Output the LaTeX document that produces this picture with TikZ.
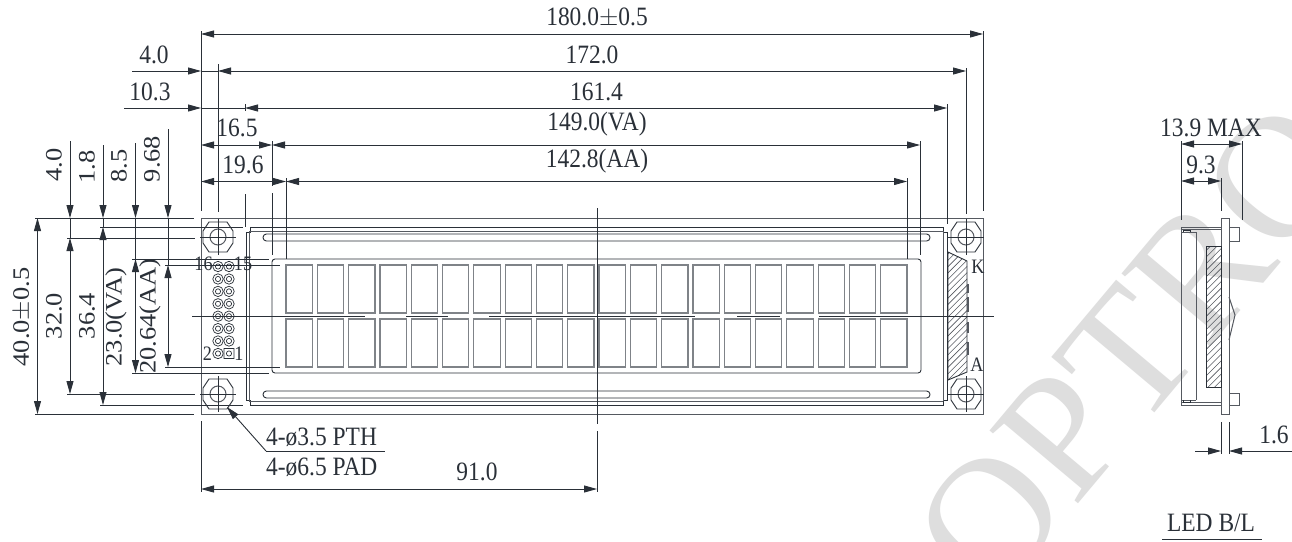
\documentclass[tikz,border=0pt]{standalone}
\usepackage{fontspec}
\setmainfont[FakeStretch=0.885]{Liberation Serif}
\newfontfamily\rotfont[FakeStretch=1.125]{Liberation Serif}
\newfontfamily\wmfont{Liberation Serif}
\usetikzlibrary{arrows.meta}
\definecolor{ink}{HTML}{2A3038}
\definecolor{wm}{HTML}{DEDEDE}
\tikzset{
  ln/.style={draw=ink,line width=0.9pt},
  thin ln/.style={draw=ink,line width=0.7pt},
  outl/.style={draw=ink!80,line width=1.0pt},
  dim/.style={draw=ink,line width=0.9pt},
  arr/.style={draw=ink,line width=0.9pt,{Triangle[length=13pt,width=7pt]}-{Triangle[length=13pt,width=7pt]}},
  arre/.style={draw=ink,line width=0.9pt,-{Triangle[length=13pt,width=7pt]}},
  lab/.style={font=\fontsize{26.5}{26.5}\selectfont,text=ink,inner sep=0pt},
  rlab/.style={font=\rotfont\fontsize{23.5}{23.5}\selectfont,text=ink,inner sep=0pt,rotate=90},
  slab/.style={font=\fontsize{20.5}{20.5}\selectfont,text=ink,inner sep=0pt},
  charcell/.style={draw=ink!60,line width=1.2pt},
  hat/.style={draw=ink!80,line width=0.6pt},
}
\newcommand{\mhole}[2]{%
  \draw[ln] (#1,#2) ++(-15,-6) -- ++(6,-9) -- ++(12,-0) -- ++(6,0) -- ++(6,9) -- ++(0,12) -- ++(-6,9) -- ++(-18,0) -- ++(-6,-9) -- cycle;
  \draw[outl] (#1,#2) circle (8);
  \draw[thin ln] (#1-18,#2) -- (#1+18,#2) (#1,#2-18) -- (#1,#2+18);
}
\newcommand{\pinhole}[2]{%
  \draw[thin ln] (#1,#2) circle (5.2) (#1,#2) circle (2.6);
}
\begin{document}
\begin{tikzpicture}[x=1pt,y=-1pt]
\useasboundingbox (0,0) rectangle (1292,541);
\clip (0,0) rectangle (1292,541);
\fill[white] (0,0) rectangle (1292,541);
% watermark
\node[font=\fontsize{175}{175}\wmfont,text=wm,rotate=50,anchor=base west,inner sep=0pt] (wmark) at (993.5,605) {OPTRO};
% module frame
\draw[outl] (201,218) rectangle (983,414);
% bezel
\draw[ln] (250,227) -- (943,227) -- (943,232) -- (947,232) -- (947,400) -- (943,400) -- (943,405) -- (250,405) -- (250,400) -- (246,400) -- (246,232) -- (250,232) -- cycle;
\draw[outl] (249,231) -- (943,231) (249,401) -- (943,401) (249,231) -- (249,401) (943,231) -- (943,401);
% slots
\draw[ln,rounded corners=3.4pt] (263,234) rectangle (930,241);
\draw[ln,rounded corners=3.4pt] (263,391) rectangle (930,398);
% window
\draw[ln,rounded corners=3pt] (272,259) rectangle (921,373);
% characters
\foreach \i in {0,...,19}{
  \pgfmathsetmacro{\xa}{286+31.3*\i}
  \draw[charcell] (\xa,265) rectangle (\xa+26.3,313);
  \draw[charcell] (\xa,319) rectangle (\xa+26.3,367);
}
% LED hatch
\begin{scope}
\clip (948,252) -- (967,261) -- (967,372) -- (948,380) -- cycle;
\foreach \k in {0,...,22}{
  \draw[hat] (940,{262+\k*6.3}) -- (975,{262+\k*6.3-35});
}
\end{scope}
\draw[ln] (948,252) -- (967,261) -- (967,372) -- (948,380) -- cycle;
\draw[draw=ink!80,line width=2pt] (968,284) -- (968,293) (968,297) -- (968,312) (968,322) -- (968,333) (968,342) -- (968,355);
% holes
\mhole{218}{237}
\mhole{218}{394}
\mhole{966}{237}
\mhole{966}{394}
% pins
\foreach \yy in {266.5,279,291.4,303.8,316.2,328.6,341,353.5}{
  \pinhole{218}{\yy}
  \ifdim\yy pt<353pt \pinhole{229}{\yy}\fi
}
\draw[thin ln] (224,348.5) rectangle (234,358.5) (229,353.5) circle (2.6);
% centre lines
\draw[thin ln] (192,316) -- (365,316) (406,316) -- (448,316) (489,316) -- (695,316) (737,316) -- (780,316) (819,316) -- (994,316);
\draw[thin ln] (597,208) -- (597,424) (597,431) -- (597,492);
% horizontal extension lines
\draw[dim] (35,218) -- (194,218) (35,414) -- (194,414);
\draw[dim] (67,238) -- (195,238) (67,394) -- (195,394);
\draw[dim] (100,227) -- (243,227) (100,405) -- (243,405);
\draw[dim] (132,259) -- (269,259) (132,373) -- (269,373);
\draw[dim] (165,265) -- (280,265) (165,367) -- (280,367);
% vertical extension lines on top
\draw[dim] (201,31) -- (201,211) (983,31) -- (983,211);
\draw[dim] (218,64) -- (218,212) (966,68) -- (966,214);
\draw[dim] (245,104) -- (245,111) (245,194) -- (245,227) (947,104) -- (947,224);
\draw[dim] (272,141) -- (272,186) (272,193) -- (272,255) (920,141) -- (920,255);
\draw[dim] (286,178) -- (286,259) (907,178) -- (907,259);
\draw[dim] (201,421) -- (201,492);
% top dimensions
\coordinate (t0) at (201,34); \coordinate (t1) at (983,34);
\draw[arr] (t0) -- (t1);
\coordinate (a0) at (132,71); \coordinate (a1) at (201,71); \coordinate (a2) at (218,71); \coordinate (a3) at (966,71);
\draw[arre] (a0) -- (a1); \draw[arr] (a2) -- (a3); \draw[dim] (a1) -- (a2);
\coordinate (b0) at (124,108); \coordinate (b1) at (201,108); \coordinate (b2) at (245,108); \coordinate (b3) at (947,108);
\draw[arre] (b0) -- (b1); \draw[arr] (b2) -- (b3); \draw[dim] (b1) -- (b2);
\coordinate (c1) at (201,145); \coordinate (c2) at (272,145); \coordinate (c3) at (920,145);
\draw[arr] (c1) -- (c2); \draw[arr] (c2) -- (c3);
\coordinate (d1) at (201,181.5); \coordinate (d2) at (286,181.5); \coordinate (d3) at (907,181.5);
\draw[arr] (d1) -- (d2); \draw[arr] (d2) -- (d3);
% left dimensions
\draw[arr] (37.5,218) -- (37.5,414);
\draw[arre] (70,141) -- (70,218);
\draw[arr] (70,238) -- (70,394); \draw[dim] (70,218) -- (70,238);
\draw[arre] (103,145) -- (103,218);
\draw[arr] (103,227) -- (103,405); \draw[dim] (103,218) -- (103,227);
\draw[arre] (135.5,143) -- (135.5,218);
\draw[arr] (135.5,259) -- (135.5,373); \draw[dim] (135.5,218) -- (135.5,259);
\draw[arre] (168,129) -- (168,218);
\draw[arr] (168,265) -- (168,367); \draw[dim] (168,218) -- (168,265);
% bottom dim
\draw[arr] (201,489) -- (597,489);
% leader
\coordinate (l1) at (266,451); \coordinate (l2) at (385,451); \coordinate (l0) at (227,407);
\draw[dim,{Triangle[length=13pt,width=7pt]}-] (l0) -- (l1);
\draw[dim] (l1) -- (l2);
% labels
\node[lab] (n1) at (597,18) {180.0$\pm$0.5};
\node[lab] (n2) at (592,55) {172.0};
\node[lab] (n3) at (596.5,92) {161.4};
\node[lab] (n4) at (597,124) {149.0(VA)};
\node[lab] (n5) at (597,161) {142.8(AA)};
\node[lab] (n6) at (154,55) {4.0};
\node[lab] (n7) at (150,92) {10.3};
\node[lab] (n8) at (237,128) {16.5};
\node[lab] (n9) at (243,165) {19.6};
\node[rlab] (n10) at (54,165) {4.0};
\node[rlab] (n11) at (87,167) {1.8};
\node[rlab] (n12) at (119,166) {8.5};
\node[rlab] (n13) at (152,159) {9.68};
\node[rlab] (n14) at (22,317) {40.0$\pm$0.5};
\node[rlab] (n15) at (54,316) {32.0};
\node[rlab] (n16) at (87,316) {36.4};
\node[rlab] (n17) at (116,317) {23.0(VA)};
\node[rlab] (n18) at (150,316) {20.64(AA)};
\node[slab] (p16) at (203.5,264) {16};
\node[slab] (p15) at (243,264) {15};
\node[slab] (p2) at (207.5,354) {2};
\node[slab] (p1) at (239,354) {1};
\node[slab] (k) at (978,267) {K};
\node[slab] (aa) at (977,365) {A};
\node[lab,anchor=west] (q1) at (266,437) {4-ø3.5 PTH};
\node[lab,anchor=west] (q2) at (266,467) {4-ø6.5 PAD};
\node[lab] (n91) at (477,472) {91.0};
% side view
\draw[dim] (1181,141) -- (1181,220) (1242,141) -- (1242,220) (1221,178) -- (1221,211);
\draw[arr] (1181,144) -- (1242,144);
\draw[arr] (1181,181) -- (1221,181);
\node[lab] (s1) at (1211,128) {13.9 MAX};
\node[lab] (s2) at (1201,165) {9.3};
% PCB side
\draw[outl] (1221,218) rectangle (1229,414);
\draw[outl] (1229,227) rectangle (1239,241);
\draw[outl] (1229,393) rectangle (1239,405.5);
\draw[outl] (1181,227) -- (1221,227) (1181,229) -- (1221,229) (1181,402) -- (1221,402) (1181,405) -- (1221,405);
\draw[outl] (1181,227) -- (1181,405);
\draw[outl] (1196,232) -- (1196,400) (1181,232) -- (1196,232) (1181,400) -- (1196,400);
\draw[thin ln] (1183,232) -- (1183,230) -- (1190,230) -- (1190,232) (1183,400) -- (1183,402) -- (1190,402) -- (1190,400);
\draw[outl] (1229,297) -- (1235,315) -- (1229,340);
\begin{scope}
\clip (1206,246) rectangle (1221,387);
\foreach \k in {0,...,25}{
  \draw[hat] (1200,{250+\k*6.6}) -- (1225,{250+\k*6.6-25});
}
\end{scope}
\draw[ln] (1206,246) rectangle (1221,387);
% 1.6
\draw[dim] (1221,422) -- (1221,454) (1229,422) -- (1229,454);
\coordinate (u0) at (1195,451); \coordinate (u1) at (1221,451); \coordinate (u2) at (1229,451); \coordinate (u3) at (1292,451);
\draw[arre] (u0) -- (u1); \draw[arre] (u3) -- (u2);
\node[lab] (s3) at (1274,435) {1.6};
\node[lab] (s4) at (1211,523) {LED B/L};
\coordinate (v0) at (1162,539); \coordinate (v1) at (1262,539);
\draw[dim] (v0) -- (v1);
\end{tikzpicture}
\end{document}
